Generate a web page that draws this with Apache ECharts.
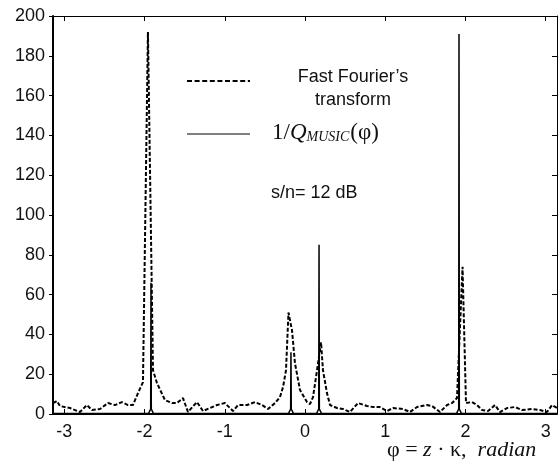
<!DOCTYPE html>
<html><head><meta charset="utf-8">
<script src="https://cdn.jsdelivr.net/npm/echarts@6/dist/echarts.min.js"></script>
<style>html,body{margin:0;padding:0;background:#fff}#c{width:559px;height:466px}</style>
</head><body><div id="c"></div>
<script>
// FFT spectrum (dashed)
const fftPhi = [-3.1416,-3.092,-3.055,-2.930,-2.805,-2.718,-2.656,-2.556,-2.456,-2.369,-2.282,-2.207,-2.145,-2.082,-2.020,-1.958,-1.895,-1.845,-1.746,-1.658,-1.596,-1.521,-1.459,-1.347,-1.272,-1.185,-1.097,-0.998,-0.898,-0.835,-0.723,-0.623,-0.536,-0.461,-0.374,-0.312,-0.274,-0.237,-0.206,-0.162,-0.125,-0.062,0.025,0.062,0.100,0.150,0.200,0.224,0.274,0.312,0.399,0.474,0.561,0.661,0.773,0.848,0.935,1.022,1.097,1.222,1.309,1.397,1.521,1.584,1.683,1.771,1.833,1.895,1.964,2.007,2.082,2.145,2.207,2.282,2.369,2.431,2.519,2.618,2.706,2.830,2.930,3.017,3.080,3.1416];
const fftVal = [5.5,6.5,4,3,1,4.5,2,2.5,5.5,4.5,6,4.5,4.5,10.5,16,192,22,15.5,7,5.5,5.5,8,1,6,1.5,3,4.5,5.5,1.5,4.5,4.5,6,4.5,2.5,5.5,8.5,13.5,22,51,42,25.5,12,6,5,8.5,22,36,22,10.5,4.5,3,2.5,1,5.5,4,3.5,3.5,1.5,3,2.5,1,3.5,4.5,4,1,4.5,5.5,8,74,5.5,6,4.5,2,1.5,4.5,1,3,3.5,2,2.5,2,1,4.5,3];
// MUSIC pseudo-spectrum 1/Q (solid)
const musicPhi = [-3.1416,-1.950,-1.924,-1.920,-1.916,-1.890,-0.205,-0.179,-0.175,-0.171,-0.145,0.145,0.171,0.175,0.179,0.205,1.890,1.916,1.920,1.924,1.950,3.1416];
const musicVal = [0.3,0.3,2.5,66,2.5,0.3,0.3,2.5,31,2.5,0.3,0.3,2.5,85,2.5,0.3,0.3,2.5,191,2.5,0.3,0.3];
const xTickValues = [-3,-2,-1,0,1,2,3];
const yTickMin = 0, yTickMax = 200, yTickStep = 20;

const fftData = fftPhi.map((p,i)=>[p,fftVal[i]]);
const musicData = musicPhi.map((p,i)=>[p,musicVal[i]]);

const chart = echarts.init(document.getElementById('c'), null, {renderer:'canvas'});
const labelFont = {fontFamily:'Arial, "Liberation Sans", sans-serif', fontSize:18, color:'#111'};
const serif = '"Liberation Serif", "Times New Roman", serif';
chart.setOption({
  animation:false,
  backgroundColor:'#fff',
  grid:{left:53,right:2,top:16,bottom:52,containLabel:false},
  xAxis:[{
    type:'value', min:-Math.PI, max:Math.PI, position:'bottom',
    axisLine:{show:true,onZero:false,lineStyle:{color:'#000',width:2}},
    axisTick:{show:true,inside:true,length:5,customValues:xTickValues,lineStyle:{color:'#000',width:1}},
    axisLabel:Object.assign({customValues:xTickValues,margin:9,formatter:v=>String(v)},labelFont),
    splitLine:{show:false}
  },{
    type:'value', min:-Math.PI, max:Math.PI, position:'top',
    axisLine:{show:true,onZero:false,lineStyle:{color:'#000',width:1}},
    axisTick:{show:true,inside:true,length:5,customValues:xTickValues,lineStyle:{color:'#000',width:1}},
    axisLabel:{show:false},
    splitLine:{show:false}
  }],
  yAxis:[{
    type:'value', min:yTickMin, max:yTickMax, interval:yTickStep, position:'left',
    axisLine:{show:true,onZero:false,lineStyle:{color:'#000',width:2}},
    axisTick:{show:true,inside:false,length:4,lineStyle:{color:'#000',width:1}},
    axisLabel:Object.assign({margin:8},labelFont),
    splitLine:{show:false}
  },{
    type:'value', min:yTickMin, max:yTickMax, interval:yTickStep, position:'right',
    axisLine:{show:true,onZero:false,lineStyle:{color:'#000',width:1}},
    axisTick:{show:true,inside:true,length:5,lineStyle:{color:'#000',width:1}},
    axisLabel:{show:false},
    splitLine:{show:false}
  }],
  series:[{
    name:'FFT', type:'line', xAxisIndex:0, yAxisIndex:0, data:fftData, showSymbol:false, symbol:'none',
    lineStyle:{color:'#000',width:2,type:[4,2]}, z:3
  },{
    name:'MUSIC', type:'line', xAxisIndex:0, yAxisIndex:0, data:musicData, showSymbol:false, symbol:'none',
    lineStyle:{color:'#000',width:1.5}, z:4
  }],
  graphic:[
    {type:'line',shape:{x1:187,y1:81,x2:250,y2:81},style:{stroke:'#000',lineWidth:2,lineDash:[5,2.6]}},
    {type:'line',shape:{x1:187,y1:134,x2:250,y2:134},style:{stroke:'#000',lineWidth:1}},
    {type:'text',x:353,y:77,style:{text:"Fast Fourier’s",font:'18px Arial, "Liberation Sans", sans-serif',fill:'#111',align:'center',verticalAlign:'middle'}},
    {type:'text',x:353,y:100,style:{text:"transform",font:'18px Arial, "Liberation Sans", sans-serif',fill:'#111',align:'center',verticalAlign:'middle'}},
    {type:'text',x:272,y:133,style:{
      text:'{a|1/}{q|Q}{s|MUSIC}{p|(φ)}',align:'left',verticalAlign:'middle',fill:'#111',
      rich:{
        a:{fontFamily:serif,fontSize:23,fill:'#111',verticalAlign:'middle'},
        q:{fontFamily:serif,fontStyle:'italic',fontSize:23,fill:'#111',verticalAlign:'middle'},
        s:{fontFamily:serif,fontStyle:'italic',fontSize:14,fill:'#111',verticalAlign:'bottom',padding:[0,1,0,0]},
        p:{fontFamily:serif,fontSize:23,fill:'#111',verticalAlign:'middle'}
      }}},
    {type:'text',x:271,y:193,style:{text:"s/n= 12 dB",font:'18px Arial, "Liberation Sans", sans-serif',fill:'#111',align:'left',verticalAlign:'middle'}},
    {type:'text',x:387,y:450,style:{
      text:'{r|φ = }{i|z}{r| · κ,  }{i|radian}',align:'left',verticalAlign:'middle',
      rich:{
        r:{fontFamily:serif,fontSize:22,fill:'#111'},
        i:{fontFamily:serif,fontStyle:'italic',fontSize:22,fill:'#111'}
      }}}
  ]
});
</script></body></html>
